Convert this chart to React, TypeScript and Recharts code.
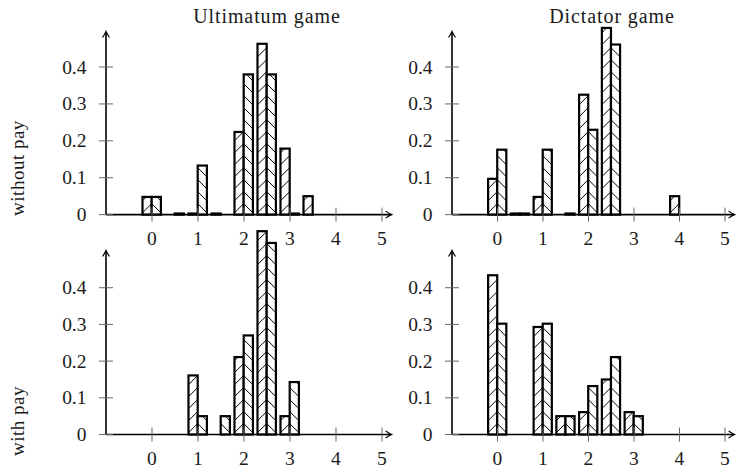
import React from "react";
import { BarChart, Bar, XAxis, YAxis, ReferenceLine } from "recharts";

// bar pair centres (left bar sits just left of the centre, right bar just right)
const positions = [0, 0.5, 1, 1.5, 2, 2.5, 3, 3.5, 4];
const xTicks = [0, 1, 2, 3, 4, 5];
const yTicks = [0, 0.1, 0.2, 0.3, 0.4];

// Ultimatum game, without pay
const ultNoPayLeft = [0.048, null, 0.003, 0.003, 0.224, 0.463, 0.179, 0.05, null];
const ultNoPayRight = [0.048, 0.003, 0.133, null, 0.38, 0.38, 0.003, null, null];
// Dictator game, without pay
const dicNoPayLeft = [0.097, 0.003, 0.048, null, 0.325, 0.506, null, null, 0.05];
const dicNoPayRight = [0.176, 0.003, 0.176, 0.003, 0.23, 0.461, null, null, null];
// Ultimatum game, with pay
const ultPayLeft = [null, null, 0.161, null, 0.211, 0.554, 0.05, null, null];
const ultPayRight = [null, null, 0.05, 0.05, 0.27, 0.522, 0.143, null, null];
// Dictator game, with pay
const dicPayLeft = [0.434, null, 0.293, 0.05, 0.061, 0.15, 0.061, null, null];
const dicPayRight = [0.302, null, 0.302, 0.05, 0.132, 0.211, 0.05, null, null];

const FONT = "'Liberation Serif', 'DejaVu Serif', serif";
const SPACING = 12;
const OFFSET = 11;

const hatchBar = (joinRight: boolean) => (props: any) => {
  const { x, y, width, height, value } = props;
  if (value == null || width == null) return <g />;
  const top = y;
  const yb = y + height;
  const w = width;
  const lines = [];
  for (let ay = yb - OFFSET + SPACING; ay > top - w - SPACING; ay -= SPACING) {
    const lo = Math.max(ay, top);
    const hi = Math.min(ay + w, yb);
    if (hi <= lo) continue;
    const px = (yy: number) => (joinRight ? x + w - (yy - ay) : x + (yy - ay));
    lines.push(
      <line key={ay} x1={px(lo)} y1={lo} x2={px(hi)} y2={hi} stroke="#000" strokeWidth={1} />
    );
  }
  return (
    <g>
      <rect x={x} y={y} width={w} height={height} fill="#fff" />
      {lines}
      <rect x={x} y={y} width={w} height={height} fill="none" stroke="#000" strokeWidth={2.2} />
    </g>
  );
};

const leftShape = hatchBar(true);
const rightShape = hatchBar(false);

const ArrowLine = (p: any) => {
  const { x1, y1, x2, y2 } = p;
  const ang = (Math.atan2(y2 - y1, x2 - x1) * 180) / Math.PI;
  return (
    <g>
      <line x1={x1} y1={y1} x2={x2} y2={y2} stroke="#000" strokeWidth={1.6} />
      <path
        d="M -5.5 -3.5 Q -1.8 -0.9 0.5 0 Q -1.8 0.9 -5.5 3.5"
        transform={`translate(${x2},${y2}) rotate(${ang})`}
        fill="none"
        stroke="#000"
        strokeWidth={1.2}
      />
    </g>
  );
};

const XTick = (props: any) => {
  const { x, y, payload } = props;
  return (
    <g>
      <line x1={x} y1={y - 7} x2={x} y2={y + 7} stroke="#666" strokeWidth={1} />
      <text x={x} y={y + 30} textAnchor="middle" fontFamily={FONT} fontSize={19.5} fill="#1a1a1a">
        {payload.value}
      </text>
    </g>
  );
};

const YTick = (props: any) => {
  const { x, y, payload } = props;
  return (
    <g>
      <line x1={x - 7} y1={y} x2={x + 7} y2={y} stroke="#666" strokeWidth={1} />
      <text x={x - 19.5} y={y + 6.5} textAnchor="end" fontFamily={FONT} fontSize={19.5} fill="#1a1a1a">
        {payload.value}
      </text>
    </g>
  );
};

interface PanelProps {
  left: (number | null)[];
  right: (number | null)[];
  xLeft: number;
  xRight: number;
  yBase: number;
  unitY: number;
  yArrow: number;
}

const Panel: React.FC<PanelProps> = ({ left, right, xLeft, xRight, yBase, unitY, yArrow }) => {
  const data = positions.map((p, i) => ({ x: p, a: left[i], b: right[i] }));
  const unitX = (xRight - xLeft) / 6.2;
  const barSize = 0.2 * unitX;
  const top = yBase - 0.56 * unitY;
  const chartW = xRight - xLeft + 110;
  const chartH = yBase - top + 40;
  return (
    <div style={{ position: "absolute", left: xLeft - 100, top }}>
      <BarChart
        width={chartW}
        height={chartH}
        data={data}
        margin={{ top: 0, right: 10, bottom: 0, left: 0 }}
        barGap={0}
        barCategoryGap={0}
      >
        <XAxis
          type="number"
          dataKey="x"
          domain={[-1, 5.2]}
          ticks={xTicks}
          interval={0}
          height={40}
          tickSize={0}
          tickMargin={0}
          axisLine={false}
          tickLine={false}
          tick={XTick}
        />
        <YAxis
          type="number"
          domain={[0, 0.56]}
          ticks={yTicks}
          interval={0}
          width={100}
          tickSize={0}
          tickMargin={0}
          axisLine={false}
          tickLine={false}
          tick={YTick}
        />
        <Bar dataKey="a" barSize={barSize} shape={leftShape} isAnimationActive={false} />
        <Bar dataKey="b" barSize={barSize} shape={rightShape} isAnimationActive={false} />
        <ReferenceLine segment={[{ x: -1, y: 0 }, { x: 5.2, y: 0 }]} shape={ArrowLine} />
        <ReferenceLine segment={[{ x: -1, y: 0 }, { x: -1, y: yArrow }]} shape={ArrowLine} />
      </BarChart>
    </div>
  );
};

export default function App() {
  return (
    <div style={{ position: "absolute", left: 0, top: 0, width: 738, height: 468, background: "#fff" }}>
      <svg width={738} height={468} style={{ position: "absolute", left: 0, top: 0 }}>
        <text x={267} y={23} textAnchor="middle" fontFamily={FONT} fontSize={20} letterSpacing={0.9} fill="#1a1a1a">
          Ultimatum game
        </text>
        <text x={612} y={23} textAnchor="middle" fontFamily={FONT} fontSize={20} letterSpacing={0.9} fill="#1a1a1a">
          Dictator game
        </text>
        <text transform="translate(24,168) rotate(-90)" textAnchor="middle" fontFamily={FONT} fontSize={19} letterSpacing={0.5} fill="#1a1a1a">
          without pay
        </text>
        <text transform="translate(24,421) rotate(-90)" textAnchor="middle" fontFamily={FONT} fontSize={19} letterSpacing={0.5} fill="#1a1a1a">
          with pay
        </text>
      </svg>
      <Panel left={ultNoPayLeft} right={ultNoPayRight} xLeft={106.3} xRight={391.5} yBase={214.3} unitY={369} yArrow={0.495} />
      <Panel left={dicNoPayLeft} right={dicNoPayRight} xLeft={452.4} xRight={734.5} yBase={214.3} unitY={369} yArrow={0.495} />
      <Panel left={ultPayLeft} right={ultPayRight} xLeft={106.3} xRight={391.5} yBase={435} unitY={367} yArrow={0.5} />
      <Panel left={dicPayLeft} right={dicPayRight} xLeft={452.4} xRight={734.5} yBase={435} unitY={367} yArrow={0.5} />
    </div>
  );
}
